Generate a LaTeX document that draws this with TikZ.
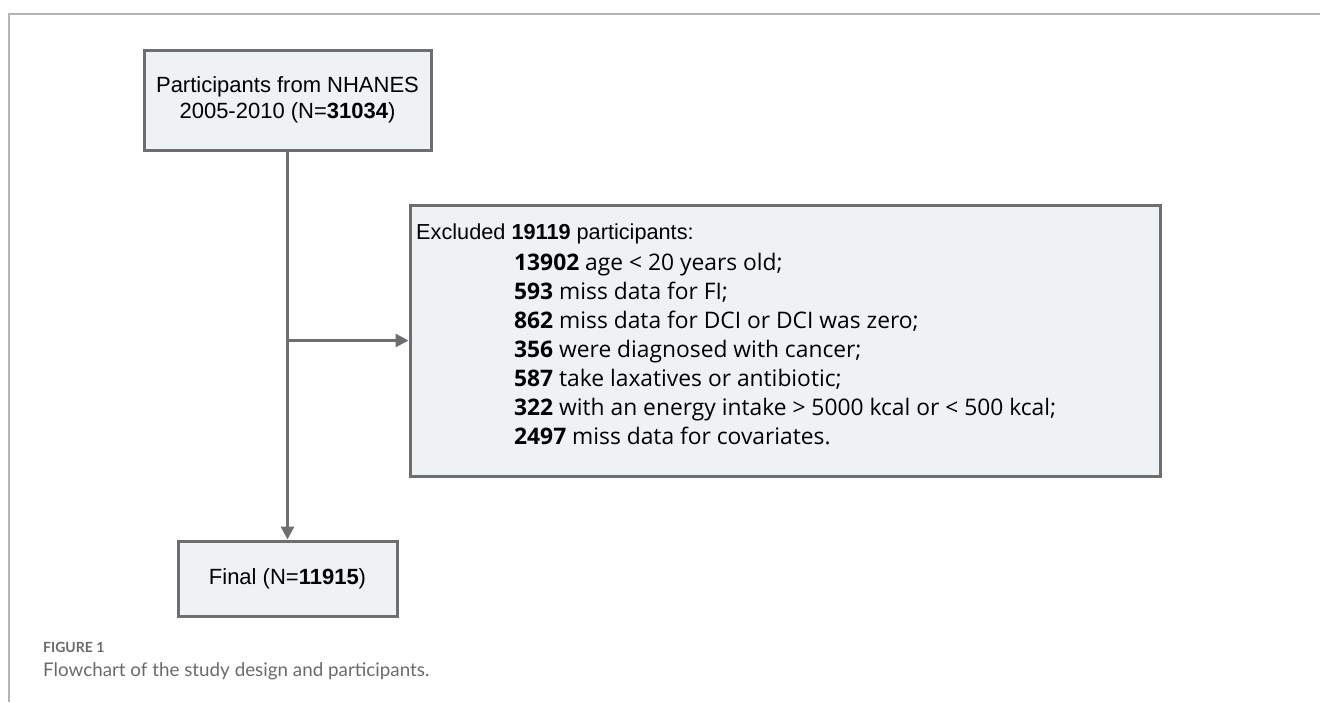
\documentclass[tikz,border=0pt]{standalone}
\usepackage{fontspec}
\setmainfont{Liberation Sans}
\newfontfamily\segoe{Open Sans}
\newfontfamily\capfont{Lato}
\usetikzlibrary{arrows.meta}
\definecolor{boxfill}{HTML}{EEF2F5}
\definecolor{boxline}{HTML}{6E6E70}
\definecolor{frameline}{HTML}{B4B4B4}
\definecolor{captext}{HTML}{6A6A6A}
\tikzset{
  flowbox/.style={draw=boxline, line width=3pt, fill=boxfill, inner sep=0pt, align=center,
    font=\fontsize{22}{26}\selectfont, text=black},
  link/.style={draw=boxline, line width=3pt},
  linkarrow/.style={link, -{Triangle[length=13pt,width=13pt]}},
}
\begin{document}
\begin{tikzpicture}[x=1pt,y=-1pt]
\useasboundingbox (0,0) rectangle (1320,702);
% outer frame (top and left)
\draw[frameline, line width=2pt] (1320,14) -- (9,14) -- (9,702);

\node[flowbox, minimum width=287pt, minimum height=100pt] (top) at (287.5,100)
  {Participants from NHANES\\2005-2010 (N=\textbf{31034})};

\node[flowbox, minimum width=750pt, minimum height=271pt] (excl) at (785,340.5) {};

\node[anchor=west, inner sep=0pt, text=black,
  font=\fontsize{21.7}{26}\selectfont] (excltitle) at (416,234)
  {Excluded \textbf{19119} participants:};

\node[anchor=north west, inner sep=0pt, align=left, text=black,
  font=\segoe\fontsize{22.8}{29}\selectfont] (excltext) at (514,253)
  {\textbf{13902} age < 20 years old;\\
   \textbf{593} miss data for FI;\\
   \textbf{862} miss data for DCI or DCI was zero;\\
   \textbf{356} were diagnosed with cancer;\\
   \textbf{587} take laxatives or antibiotic;\\
   \textbf{322} with an energy intake > 5000 kcal or < 500 kcal;\\
   \textbf{2497} miss data for covariates.};

\node[flowbox, minimum width=219pt, minimum height=75pt] (final) at (287.5,578.5)
  {Final (N=\textbf{11915})};

\coordinate (branch) at (top.south |- excl.west);
\draw[linkarrow] (top.south) -- (final.north);
\draw[linkarrow] (branch) -- (excl.west);

\node[anchor=west, inner sep=0pt, text=captext, font=\capfont\bfseries\fontsize{14}{16}\selectfont] (figlabel) at (43,647) {FIGURE 1};
\node[anchor=west, inner sep=0pt, text=captext, font=\capfont\fontsize{18.8}{22}\selectfont] (caption) at (43,671) {Flowchart of the study design and participants.};
\end{tikzpicture}
\end{document}
